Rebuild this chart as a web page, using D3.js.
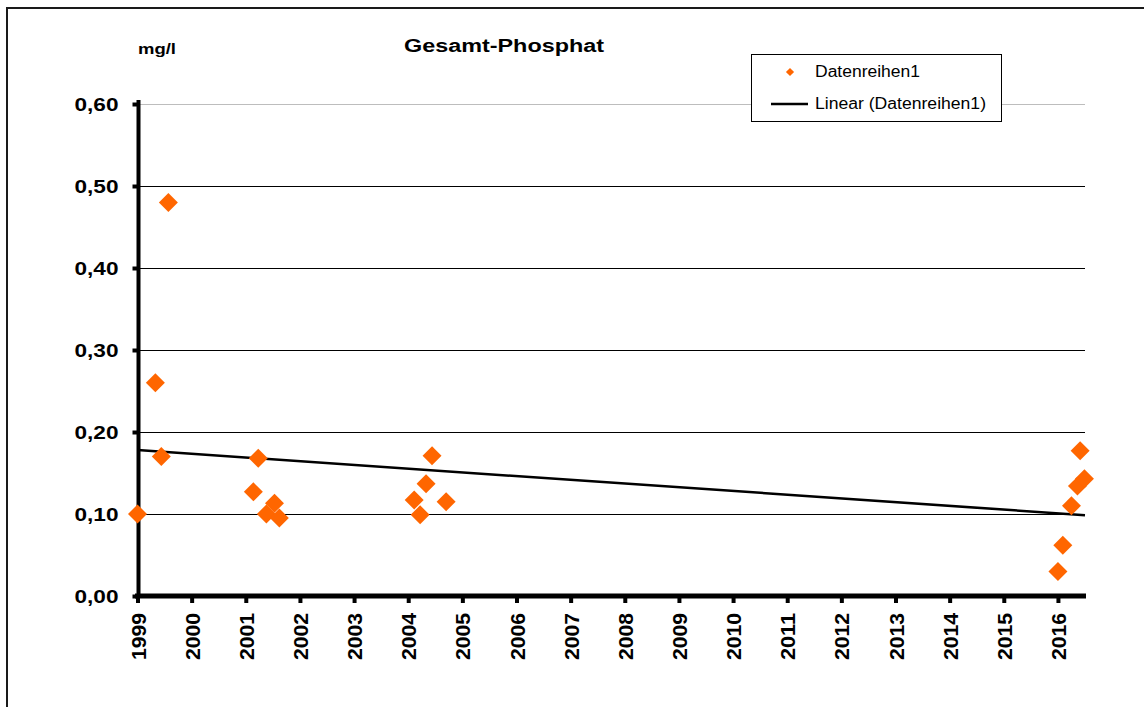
<html>
<head>
<meta charset="utf-8">
<script src="https://cdn.jsdelivr.net/npm/d3@7"></script>
<style>
  body { margin: 0; background: #fff; }
  text { font-family: "Liberation Sans", Arial, sans-serif; }
</style>
</head>
<body>
<script>
// decimal years of each sample, and the measured total phosphate (mg/l)
var years = [1999.0, 1999.33, 1999.44, 1999.57,
             2001.14, 2001.23, 2001.38, 2001.53, 2001.62,
             2004.11, 2004.22, 2004.33, 2004.44, 2004.70,
             2016.0, 2016.09, 2016.25, 2016.36, 2016.41, 2016.49];
var values = [0.100, 0.260, 0.170, 0.480,
              0.127, 0.168, 0.100, 0.113, 0.095,
              0.117, 0.099, 0.137, 0.171, 0.115,
              0.030, 0.062, 0.110, 0.134, 0.177, 0.143];
var yearTicks = d3.range(1999, 2017);
var valueTicks = [0, 0.1, 0.2, 0.3, 0.4, 0.5, 0.6];
var title = "Gesamt-Phosphat";
var unit = "mg/l";
var seriesName = "Datenreihen1";
var trendName = "Linear (Datenreihen1)";

var W = 1144, H = 707;
var svg = d3.select("body").append("svg")
    .attr("width", W).attr("height", H);

/* outer frame, runs off the right and bottom edge */
svg.append("rect")
    .attr("x", 7).attr("y", 8)
    .attr("width", W + 20).attr("height", H + 20)
    .attr("fill", "#fff").attr("stroke", "#1a1a1a").attr("stroke-width", 2);

var x = d3.scaleLinear().domain([1999, 2016.5]).range([137.5, 1085]);
var y = d3.scaleLinear().domain([0, 0.6]).range([596, 104]);

/* gridlines */
svg.append("g").selectAll("line")
    .data(valueTicks.filter(function(d) { return d > 0; }))
    .enter().append("line")
    .attr("x1", x(1999)).attr("x2", x(2016.5))
    .attr("y1", function(d) { return Math.round(y(d)) + 0.5; })
    .attr("y2", function(d) { return Math.round(y(d)) + 0.5; })
    .attr("stroke", function(d) { return d >= 0.6 ? "#bdbdbd" : "#000"; })
    .attr("stroke-width", 1);

/* linear trend, least squares over the data */
var mx = d3.mean(years), my = d3.mean(values);
var sxy = d3.sum(years, function(v, i) { return (v - mx) * (values[i] - my); });
var sxx = d3.sum(years, function(v) { return (v - mx) * (v - mx); });
var slope = sxy / sxx, icpt = my - slope * mx;
var trend = [1999, 2016.5].map(function(t) { return [t, icpt + slope * t]; });

/* axes */
var fmt = function(d) { return d3.format(".2f")(d).replace(".", ","); };
var yAxis = svg.append("g")
    .attr("transform", "translate(" + 138.5 + ",0)")
    .call(d3.axisLeft(y).tickValues(valueTicks).tickFormat(fmt).tickSize(6).tickSizeOuter(0).tickPadding(14));
yAxis.select(".domain").attr("stroke-width", 4).attr("d", "M0,100V598");
yAxis.selectAll(".tick line").attr("stroke-width", 4);
yAxis.selectAll("text")
    .attr("font-size", 19).attr("font-weight", "bold").attr("fill", "#000")
    .attr("textLength", 44).attr("lengthAdjust", "spacingAndGlyphs");

var xAxis = svg.append("g")
    .attr("transform", "translate(0," + 596 + ")")
    .call(d3.axisBottom(x).tickValues(yearTicks).tickFormat(d3.format("d")).tickSize(7).tickSizeOuter(0));
xAxis.select(".domain").attr("stroke-width", 5).attr("d", "M135,0H1086");
xAxis.selectAll(".tick line").attr("stroke-width", 4);
xAxis.selectAll("text")
    .attr("font-size", 21).attr("font-weight", "bold").attr("fill", "#000")
    .attr("text-anchor", "end")
    .attr("transform", "rotate(-90)")
    .attr("x", -17).attr("y", 0).attr("dy", "0.36em")
    .attr("textLength", 47).attr("lengthAdjust", "spacingAndGlyphs");

/* trend line */
svg.append("path")
    .datum(trend)
    .attr("d", d3.line().x(function(d) { return x(d[0]); }).y(function(d) { return y(d[1]); }))
    .attr("fill", "none").attr("stroke", "#000").attr("stroke-width", 2.5);

/* points */
var diamond = d3.symbol(d3.symbolSquare, 180);
svg.append("g").selectAll("path")
    .data(years.map(function(t, i) { return [t, values[i]]; }))
    .enter().append("path")
    .attr("d", diamond)
    .attr("transform", function(d) { return "translate(" + x(d[0]) + "," + y(d[1]) + ") rotate(45)"; })
    .attr("fill", "#ff6600");

/* title and unit */
svg.append("text").attr("x", 504).attr("y", 52)
    .attr("text-anchor", "middle").attr("font-size", 18).attr("font-weight", "bold")
    .attr("textLength", 200).attr("lengthAdjust", "spacingAndGlyphs")
    .text(title);
svg.append("text").attr("x", 138).attr("y", 54)
    .attr("font-size", 15).attr("font-weight", "bold")
    .attr("textLength", 38).attr("lengthAdjust", "spacingAndGlyphs")
    .text(unit);

/* legend */
var lg = svg.append("g");
lg.append("rect").attr("x", 751.5).attr("y", 54.5).attr("width", 250).attr("height", 67)
    .attr("fill", "#fff").attr("stroke", "#000").attr("stroke-width", 1);
lg.append("path").attr("d", d3.symbol(d3.symbolSquare, 34))
    .attr("transform", "translate(790,72) rotate(45)").attr("fill", "#ff6600");
lg.append("text").attr("x", 815).attr("y", 77).attr("font-size", 16)
    .attr("textLength", 105).attr("lengthAdjust", "spacingAndGlyphs").text(seriesName);
lg.append("line").attr("x1", 771).attr("x2", 808).attr("y1", 104).attr("y2", 104)
    .attr("stroke", "#000").attr("stroke-width", 2.5);
lg.append("text").attr("x", 815).attr("y", 109).attr("font-size", 16)
    .attr("textLength", 171).attr("lengthAdjust", "spacingAndGlyphs").text(trendName);
</script>
</body>
</html>
